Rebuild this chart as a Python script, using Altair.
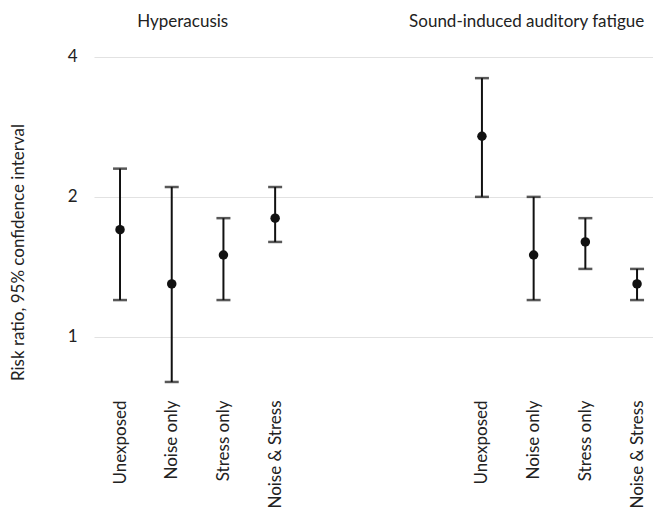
import altair as alt
import pandas as pd

outcomes = ["Hyperacusis", "Sound-induced auditory fatigue"]
exposures = ["Unexposed", "Noise only", "Stress only", "Noise & Stress"]

rr_hyper = [1.70, 1.30, 1.50, 1.80]
lo_hyper = [1.20, 0.80, 1.20, 1.60]
hi_hyper = [2.30, 2.10, 1.80, 2.10]

rr_fatigue = [2.70, 1.50, 1.60, 1.30]
lo_fatigue = [2.00, 1.20, 1.40, 1.20]
hi_fatigue = [3.60, 2.00, 1.80, 1.40]

y_ticks = [1, 2, 4]
gap_slots = ["gap1", "gap2", "gap3"]

rows = []
for outcome, rr, lo, hi in [
    (outcomes[0], rr_hyper, lo_hyper, hi_hyper),
    (outcomes[1], rr_fatigue, lo_fatigue, hi_fatigue),
]:
    for e, r, l, h in zip(exposures, rr, lo, hi):
        rows.append({"key": f"{outcome}|{e}", "outcome": outcome,
                     "exposure": e, "rr": r, "lo": l, "hi": h})
df = pd.DataFrame(rows)

domain = ([f"{outcomes[0]}|{e}" for e in exposures] + gap_slots +
          [f"{outcomes[1]}|{e}" for e in exposures])

FONT = "Lato"
INK = "#111111"
TXT = "#222222"

xscale = alt.Scale(domain=domain, type="point", padding=0.406, align=0.62)
yscale = alt.Scale(type="log", base=2, domain=[0.75, 4.2])

x_enc = alt.X("key:N", scale=xscale, title=None,
              axis=alt.Axis(labelAngle=-90, ticks=False, domain=False,
                            labelPadding=5, labelFontSize=17, labelFont=FONT,
                            labelColor=TXT, grid=False,
                            labelExpr="indexof(datum.label, '|') >= 0 ? split(datum.label, '|')[1] : ''"))

y_axis = alt.Axis(values=y_ticks, ticks=False, domain=False, grid=True,
                  gridColor="#e2e2e2", gridWidth=1.2,
                  labelFontSize=17, labelFont=FONT, labelColor=TXT,
                  labelPadding=17,
                  title="Risk ratio, 95% confidence interval",
                  titleFont=FONT, titleFontSize=17, titleFontWeight="normal",
                  titleColor=TXT, titleX=-76, titleY=205, titleAngle=-90,
                  titleAlign="center", titleBaseline="middle")

base = alt.Chart(df)

rules = base.mark_rule(color=INK, strokeWidth=2).encode(
    x=x_enc,
    y=alt.Y("lo:Q", scale=yscale, axis=y_axis),
    y2="hi:Q",
)
caps_lo = base.mark_tick(color=INK, size=14, thickness=2.5).encode(
    x=alt.X("key:N", scale=xscale), y=alt.Y("lo:Q", scale=yscale))
caps_hi = base.mark_tick(color=INK, size=14, thickness=2.5).encode(
    x=alt.X("key:N", scale=xscale), y=alt.Y("hi:Q", scale=yscale))
points = base.mark_point(filled=True, color=INK, size=90, opacity=1).encode(
    x=alt.X("key:N", scale=xscale), y=alt.Y("rr:Q", scale=yscale))

def panel_title(idx, shift):
    t = pd.DataFrame({"key": [f"{outcomes[idx]}|{exposures[1]}"],
                      "label": [outcomes[idx]]})
    return alt.Chart(t).mark_text(
        font=FONT, fontSize=17, color=TXT, align="center",
        baseline="middle", dx=shift
    ).encode(x=alt.X("key:N", scale=xscale), y=alt.value(-25), text="label:N")

chart = alt.layer(rules, caps_lo, caps_hi, points,
                  panel_title(0, 11), panel_title(1, -7)).properties(
    width=559, height=348,
    autosize=alt.AutoSizeParams(type="none"),
    padding={"left": 86, "top": 39, "right": 0, "bottom": 118},
).configure_view(stroke=None)

chart.save("out.html", embed_options={"renderer": "svg", "actions": False})
